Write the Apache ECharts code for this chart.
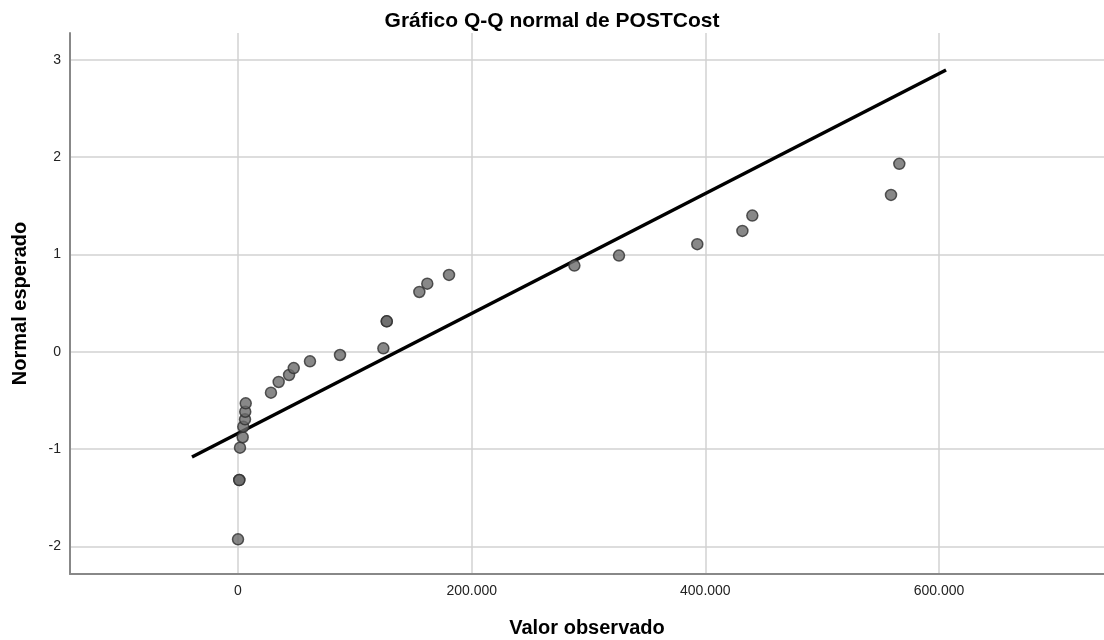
<!DOCTYPE html>
<html>
<head>
<meta charset="utf-8">
<script src="https://cdn.jsdelivr.net/npm/echarts@6/dist/echarts.min.js"></script>
<style>
  html, body { margin: 0; padding: 0; background: #fff; }
  #qq { width: 1104px; height: 640px; }
</style>
</head>
<body>
<div id="qq"></div>
<script>
// observed values (x) and expected normal values (y)
var observed = [0, 1100, 1100, 1700, 4000, 4500, 6000, 6200, 6600, 28200, 34800, 43700, 47700, 61600, 87300,
    124400, 127300, 127300, 155200, 162000, 180600, 287900, 326100, 393100, 431700, 440200, 558900, 566000]
var expected = [-1.928, -1.318, -1.318, -0.985, -0.878, -0.770, -0.694, -0.616, -0.530, -0.420, -0.310, -0.238, -0.167, -0.098, -0.033,
    0.036, 0.313, 0.313, 0.615, 0.700, 0.790, 0.886, 0.989, 1.106, 1.243, 1.400, 1.613, 1.932]

// reference line end points
var lineX = [-39400, 606000]
var lineY = [-1.082, 2.897]

var xTicks = [0, 200000, 400000, 600000]
var yTicks = [-2, -1, 0, 1, 2, 3]

var qq = document.getElementById("qq")
var myChart_qq = echarts.init(qq)

function fmtThousands(v) {
    return String(v).replace(/\B(?=(\d{3})+(?!\d))/g, ".")
}

var points = observed.map(function (v, i) { return [v, expected[i]] })
var linePts = lineX.map(function (v, i) { return [v, lineY[i]] })

var font = "Liberation Sans, Arial, sans-serif"

var option_qq = {
    animation: false,
    title: {
        text: "Gráfico Q-Q normal de POSTCost",
        left: "center",
        top: 6,
        textStyle: { fontFamily: font, fontSize: 21, fontWeight: "bold", color: "#000" }
    },
    grid: {
        left: 70,
        right: 0,
        top: 33,
        bottom: 66,
        outerBoundsMode: "none",
        containLabel: false
    },
    xAxis: {
        type: "value",
        min: -143800,
        max: 741200,
        name: "Valor observado",
        nameLocation: "middle",
        nameGap: 44,
        nameTextStyle: { fontFamily: font, fontSize: 20, fontWeight: "bold", color: "#000" },
        axisLine: { show: true, onZero: false, lineStyle: { color: "#888", width: 2 } },
        axisTick: { show: false, customValues: xTicks },
        axisLabel: {
            customValues: xTicks,
            fontFamily: font, fontSize: 14, color: "#222", margin: 10,
            formatter: function (v) { return fmtThousands(v) }
        },
        splitLine: { show: true, lineStyle: { color: "#d2d2d2", width: 1.5 } }
    },
    yAxis: {
        type: "value",
        min: -2.284,
        max: 3.277,
        name: "Normal esperado",
        nameLocation: "middle",
        nameGap: 40,
        nameTextStyle: { fontFamily: font, fontSize: 20, fontWeight: "bold", color: "#000" },
        axisLine: { show: true, onZero: false, lineStyle: { color: "#888", width: 2 } },
        axisTick: { show: false, customValues: yTicks },
        axisLabel: {
            customValues: yTicks,
            fontFamily: font, fontSize: 14, color: "#222", margin: 9
        },
        splitLine: { show: true, lineStyle: { color: "#d2d2d2", width: 1.5 } }
    },
    series: [
        {
            type: "line",
            data: linePts,
            showSymbol: false,
            lineStyle: { color: "#000", width: 3.5 },
            z: 2
        },
        {
            type: "scatter",
            data: points,
            symbolSize: 11,
            itemStyle: { color: "#6a6a6a", borderColor: "#303030", borderWidth: 1.5 },
            z: 3
        }
    ]
}

myChart_qq.setOption(option_qq)
</script>
</body>
</html>
